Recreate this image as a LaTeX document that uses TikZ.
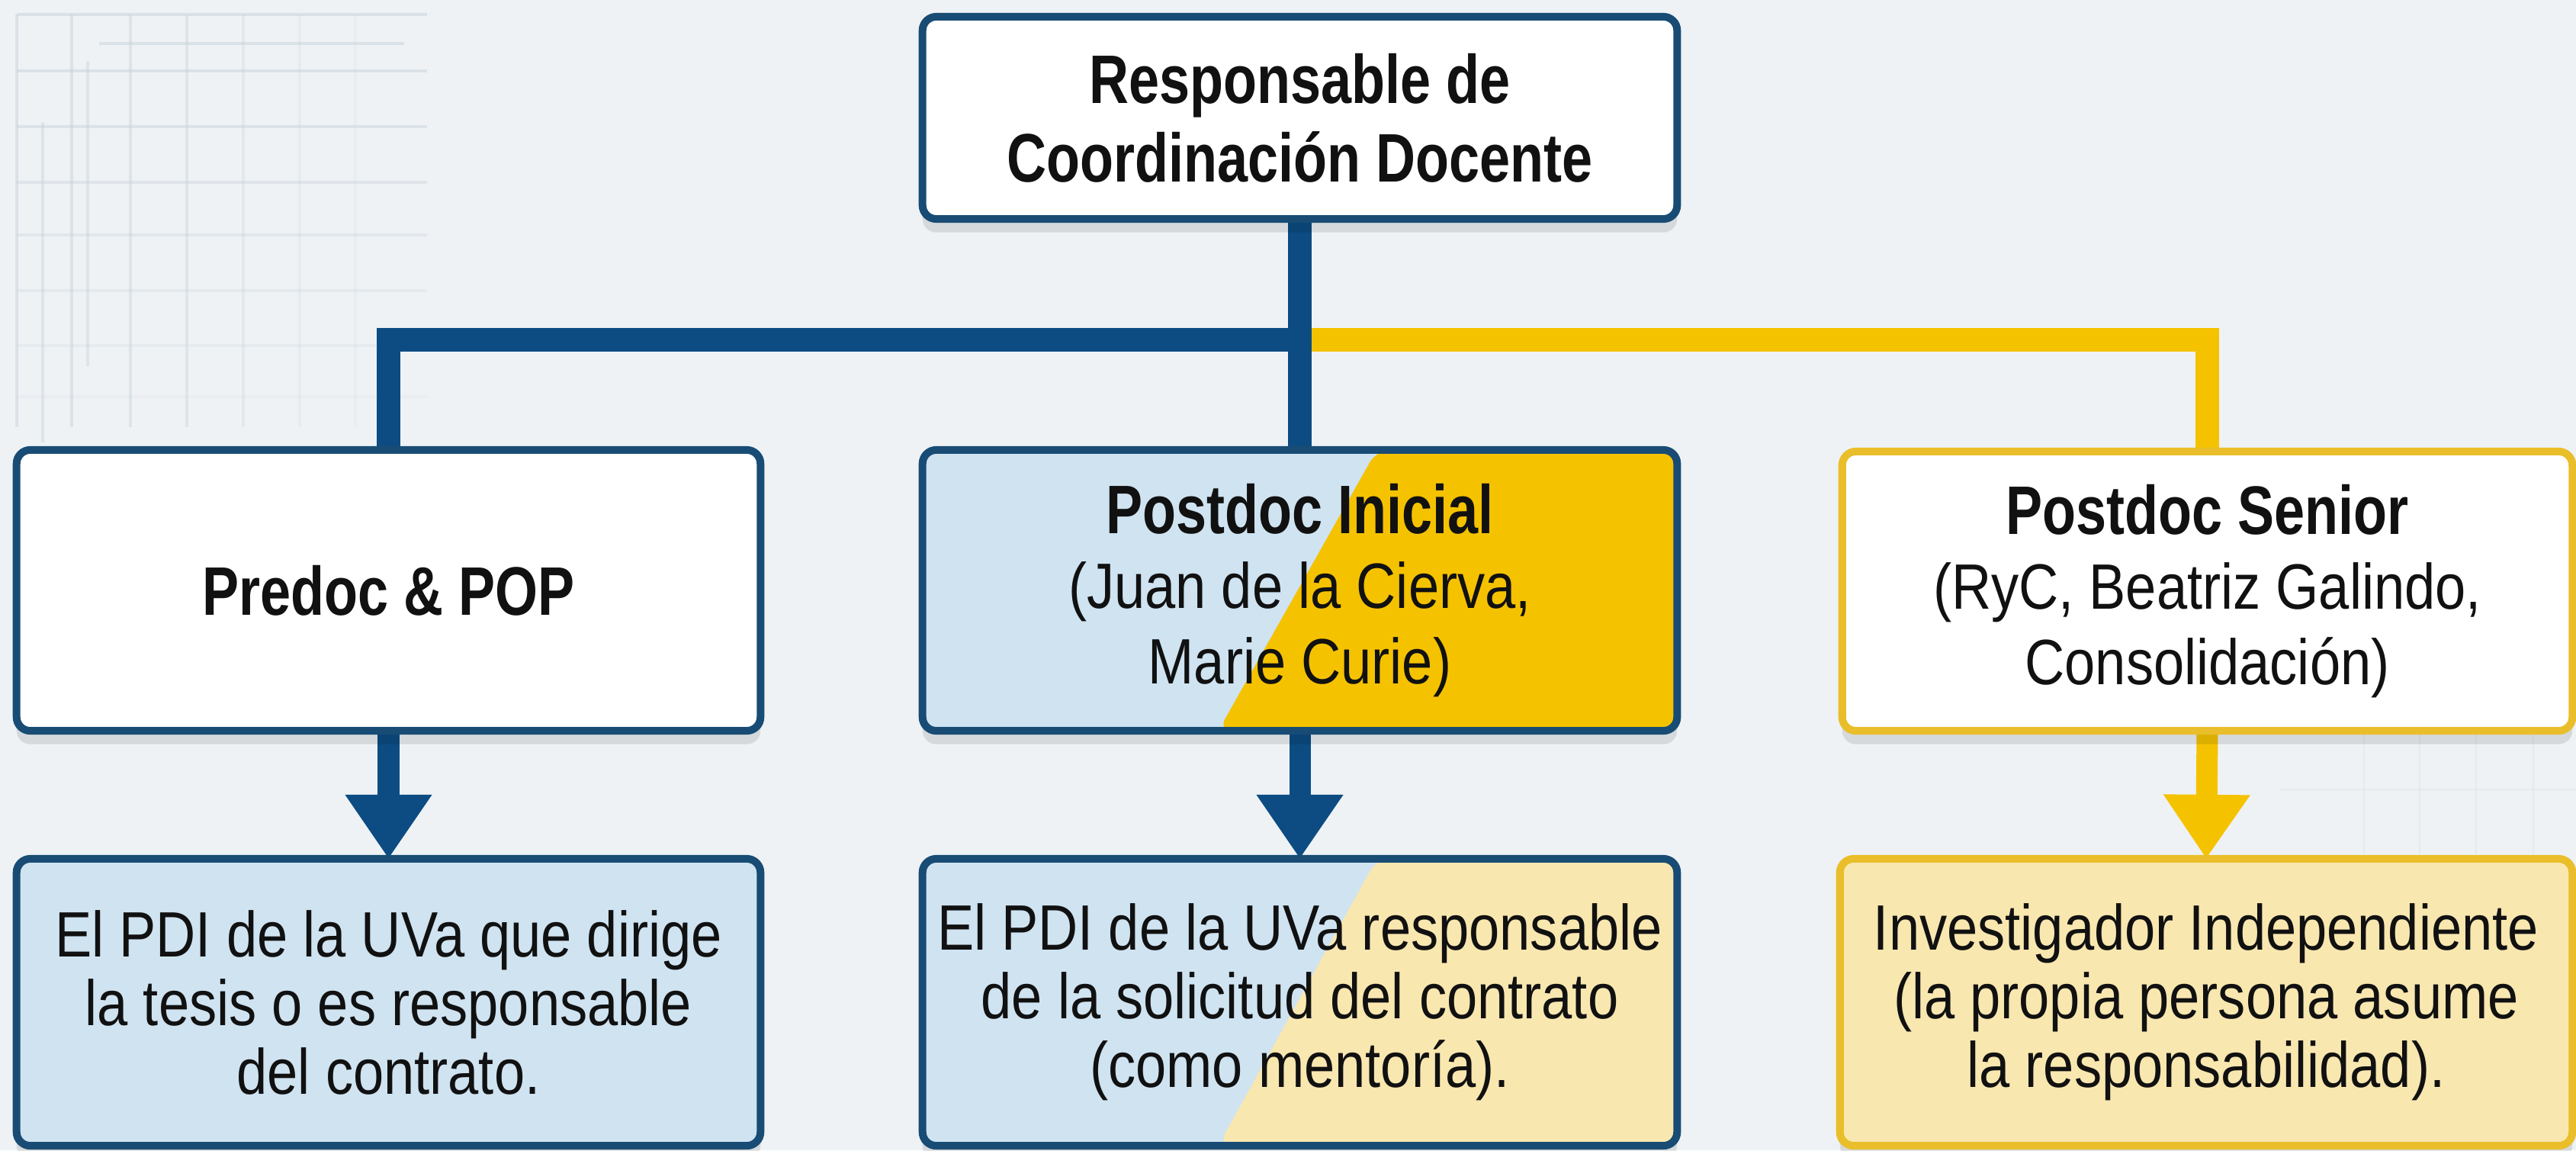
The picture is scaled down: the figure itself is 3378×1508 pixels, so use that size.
\documentclass[tikz,border=0pt]{standalone}
\usepackage{fontspec}
\setmainfont{Liberation Sans}
\newfontfamily\regf[FakeStretch=0.86]{Liberation Sans}
\newfontfamily\boldf[FakeStretch=0.80]{Liberation Sans Bold}
\newcommand{\hdtxt}[1]{{\boldf\fontsize{25.6pt}{28pt}\selectfont #1}}
\usetikzlibrary{arrows.meta,calc,shadows}
\definecolor{bgc}{HTML}{EEF2F5}
\definecolor{gridc}{HTML}{C5CFD8}
\definecolor{navy}{HTML}{0C4C82}
\definecolor{navyb}{HTML}{184C74}
\definecolor{gold}{HTML}{F5C200}
\definecolor{goldb}{HTML}{E9BE2A}
\definecolor{lblue}{HTML}{CFE3F1}
\definecolor{lyellow}{HTML}{F9E7B0}
\definecolor{txt}{HTML}{111111}
\pgfdeclarelayer{bg}
\pgfsetlayers{bg,main}
\tikzset{
  orgbox/.style={rounded corners=0.18cm, line width=0.1cm, align=center, inner sep=0pt, outer sep=0pt,
    text=txt, drop shadow={shadow xshift=0pt, shadow yshift=-5pt, opacity=0.10, fill=black}},
  navybox/.style={orgbox, draw=navyb},
  goldbox/.style={orgbox, draw=goldb},
  bodyfont/.style={font=\regf\fontsize{23.9pt}{25.6pt}\selectfont},
  headfont/.style={font=\regf\fontsize{23.9pt}{28pt}\selectfont},
  titlefont/.style={font=\boldf\fontsize{25.6pt}{29.3pt}\selectfont},
  splitfill/.style={path picture={\fill[#1]
      ($(path picture bounding box.north west)!0.602!(path picture bounding box.north east)$) --
      (path picture bounding box.north east) -- (path picture bounding box.south east) --
      ($(path picture bounding box.south west)!0.392!(path picture bounding box.south east)$) -- cycle;}},
  navyline/.style={draw=navy, line width=0.31cm, line join=miter},
  goldline/.style={draw=gold, line width=0.31cm, line join=miter},
  navyarrow/.style={draw=navy, line width=0.28cm, -{Triangle[width=1.08cm,length=0.84cm]}},
  goldarrow/.style={draw=gold, line width=0.28cm, -{Triangle[width=1.08cm,length=0.84cm]}},
}
\begin{document}
\begin{tikzpicture}[x=0.01cm,y=-0.01cm]
\useasboundingbox (0,0) rectangle (3378,1508);
\begin{pgfonlayer}{bg}
\fill[bgc] (0,0) rectangle (3378,1508);
% faint grid top-left
\foreach \xx/\op in {22/0.45,94/0.45,171/0.4,245/0.35,319/0.28,393/0.2,466/0.13}
  \draw[gridc, opacity=\op, line width=0.9pt] (\xx,19) -- (\xx,560);
\foreach \yy/\op in {19/0.45,93/0.45,166/0.42,239/0.38,308/0.3,381/0.24,453/0.18,520/0.12}
  \draw[gridc, opacity=\op, line width=0.9pt] (22,\yy) -- (560,\yy);
\draw[gridc, opacity=0.45, line width=0.9pt] (130,57) -- (530,57);
\draw[gridc, opacity=0.4, line width=0.9pt] (56,160) -- (56,580);
\draw[gridc, opacity=0.4, line width=0.9pt] (115,80) -- (115,480);
% faint grid bottom-right
\foreach \xx in {3100,3173,3247,3322}
  \draw[gridc, opacity=0.22, line width=0.8pt] (\xx,960) -- (\xx,1120);
\draw[gridc, opacity=0.22, line width=0.8pt] (2990,1035) -- (3378,1035);
\end{pgfonlayer}

% boxes
\node[navybox, fill=white, titlefont, minimum width=9.89cm, minimum height=2.65cm] (top) at (1704.5,154.5)
  {Responsable de\\Coordinación Docente};

\node[navybox, fill=white, headfont, minimum width=9.75cm, minimum height=3.68cm] (left) at (509.5,774)
  {\hdtxt{Predoc \& POP}};
\node[navybox, fill=lblue, splitfill=gold, headfont, minimum width=9.89cm, minimum height=3.68cm] (mid) at (1704.5,774)
  {\hdtxt{Postdoc Inicial}\\(Juan de la Cierva,\\Marie Curie)};
\node[goldbox, fill=white, headfont, minimum width=9.57cm, minimum height=3.66cm] (right) at (2894.5,775)
  {\hdtxt{Postdoc Senior}\\(RyC, Beatriz Galindo,\\Consolidación)};

\node[navybox, fill=lblue, bodyfont, minimum width=9.75cm, minimum height=3.76cm] (bl) at (509.5,1314)
  {El PDI de la UVa que dirige\\la tesis o es responsable\\del contrato.};
\node[navybox, fill=lblue, splitfill=lyellow, bodyfont, minimum width=9.89cm, minimum height=3.76cm] (bm) at (1704.5,1314)
  {El PDI de la UVa responsable\\de la solicitud del contrato\\(como mentoría).};
\node[goldbox, fill=lyellow, bodyfont, minimum width=9.6cm, minimum height=3.76cm] (br) at (2893,1314)
  {Investigador Independiente\\(la propia persona asume\\la responsabilidad).};

\coordinate (jn) at (1704.5,445);
\coordinate (jy) at (1720,445);

\begin{pgfonlayer}{bg}
\draw[navyline] (top.south) -- (mid.north);
\draw[navyline] (jn) -| (left.north);
\draw[goldline] (jy) -| (right.north);
\draw[navyarrow] (left.south) -- (bl.north);
\draw[navyarrow] (mid.south) -- (bm.north);
\draw[goldarrow] (right.south) -- (br.north);
\end{pgfonlayer}
\end{tikzpicture}
\end{document}
